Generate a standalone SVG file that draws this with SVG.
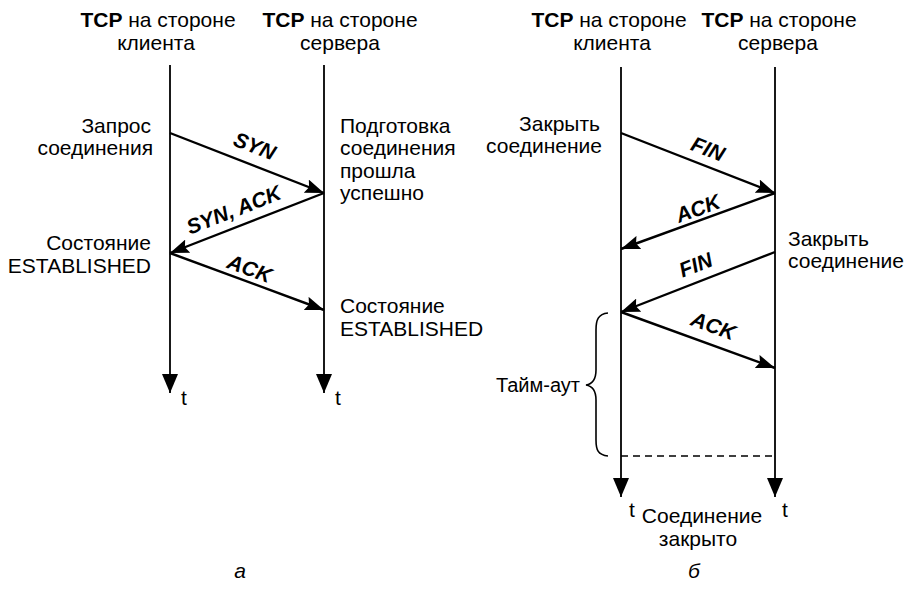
<svg xmlns="http://www.w3.org/2000/svg" width="907" height="611" viewBox="0 0 907 611">
<style>
  text { font-family: "Liberation Sans", Arial, sans-serif; font-size: 21px; fill: #000; }
  .b { font-weight: bold; }
  .msg { font-weight: bold; font-style: italic; font-size: 21px; text-anchor: middle; }
  .mid { text-anchor: middle; }
  .end { text-anchor: end; }
  .it { font-style: italic; }
  .line { stroke: #000; stroke-width: 1.6; fill: none; }
  .arr { stroke: #000; stroke-width: 2.4; fill: none; marker-end: url(#ah); }
  .tl { stroke: #000; stroke-width: 1.8; fill: none; marker-end: url(#th); }
</style>
<defs>
  <marker id="ah" markerUnits="userSpaceOnUse" markerWidth="19" markerHeight="14" refX="19" refY="7" orient="auto">
    <path d="M0,0 L19,7 L0,14 L3,7 z" fill="#000"/>
  </marker>
  <marker id="th" markerUnits="userSpaceOnUse" markerWidth="16" markerHeight="19" refX="8" refY="19" orient="0">
    <path d="M0,0 L16,0 L8,19 z" fill="#000"/>
  </marker>
</defs>
<rect width="907" height="611" fill="#fff"/>

<!-- Diagram a -->
<g id="a-client">
  <text x="158" y="27" class="mid"><tspan class="b">TCP</tspan> на стороне</text>
  <text x="156" y="50" class="mid">клиента</text>
  <line x1="170" y1="65" x2="170" y2="393" class="tl"/>
  <text x="181" y="405">t</text>
</g>
<g id="a-server">
  <text x="340" y="27" class="mid"><tspan class="b">TCP</tspan> на стороне</text>
  <text x="340" y="50" class="mid">сервера</text>
  <line x1="324" y1="65" x2="324" y2="393" class="tl"/>
  <text x="335" y="405">t</text>
</g>
<g id="a-labels">
  <text x="151" y="133" class="end">Запрос</text>
  <text x="153" y="155" class="end">соединения</text>
  <text x="340" y="133">Подготовка</text>
  <text x="340" y="155">соединения</text>
  <text x="340" y="178">прошла</text>
  <text x="340" y="200">успешно</text>
  <text x="151" y="250" class="end">Состояние</text>
  <text x="151" y="273" class="end">ESTABLISHED</text>
  <text x="340" y="313">Состояние</text>
  <text x="340" y="336">ESTABLISHED</text>
</g>

<!-- Diagram b -->
<g id="b-client">
  <text x="609" y="27" class="mid"><tspan class="b">TCP</tspan> на стороне</text>
  <text x="612" y="50" class="mid">клиента</text>
  <line x1="621" y1="67" x2="621" y2="497" class="tl"/>
  <text x="629" y="517">t</text>
</g>
<g id="b-server">
  <text x="779" y="27" class="mid"><tspan class="b">TCP</tspan> на стороне</text>
  <text x="778" y="50" class="mid">сервера</text>
  <line x1="775" y1="67" x2="775" y2="497" class="tl"/>
  <text x="782" y="517">t</text>
</g>
<g id="b-labels">
  <text x="600" y="131" class="end">Закрыть</text>
  <text x="602" y="153" class="end">соединение</text>
  <text x="788" y="246">Закрыть</text>
  <text x="788" y="268">соединение</text>
  <text x="580" y="392" class="end" style="font-size:20px">Тайм-аут</text>
  <text x="702" y="523" class="mid">Соединение</text>
  <text x="698" y="546" class="mid">закрыто</text>
</g>
<g id="timeout-brace">
  <path class="line" d="M608,313 C598,314 596,320 596,330 L596,370 C596,380 592,384 586,385 C592,386 596,390 596,400 L596,440 C596,450 598,455 608,456"/>
  <line x1="621" y1="456" x2="775" y2="456" stroke="#000" stroke-width="1.3" stroke-dasharray="7,5"/>
</g>

<!-- Connectors -->
<g id="connectors">
  <line x1="170" y1="133" x2="324" y2="193" class="arr"/>
  <line x1="324" y1="193" x2="170" y2="253" class="arr"/>
  <line x1="170" y1="253" x2="324" y2="310" class="arr"/>
  <line x1="621" y1="133" x2="775" y2="193" class="arr"/>
  <line x1="775" y1="193" x2="621" y2="249" class="arr"/>
  <line x1="775" y1="252" x2="621" y2="312" class="arr"/>
  <line x1="621" y1="312" x2="775" y2="368" class="arr"/>
</g>
<g id="connector-labels">
  <text class="msg" transform="translate(248,163) rotate(21.3)" y="-11">SYN</text>
  <text class="msg" transform="translate(240,226) rotate(-21.3)" y="-10">SYN, ACK</text>
  <text class="msg" transform="translate(245,281) rotate(20.3)" y="-6">ACK</text>
  <text class="msg" transform="translate(702,164) rotate(21.4)" y="-9">FIN</text>
  <text class="msg" transform="translate(702,220) rotate(-20)" y="-5">ACK</text>
  <text class="msg" transform="translate(702,281) rotate(-21.4)" y="-10">FIN</text>
  <text class="msg" transform="translate(707,343) rotate(20.1)" y="-11">ACK</text>
</g>

<text x="240" y="578" class="mid it">а</text>
<text x="694" y="578" class="mid it">б</text>
</svg>
